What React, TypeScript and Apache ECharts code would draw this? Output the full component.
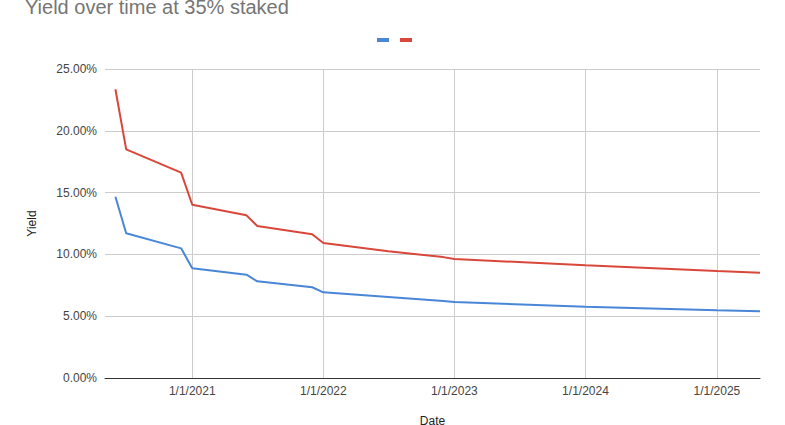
import React, { useEffect, useRef } from 'react';
import * as echarts from 'echarts';

const dates = [
  '2020-06-01', '2020-07-01', '2020-12-01', '2021-01-01', '2021-06-01', '2021-07-01',
  '2021-12-01', '2022-01-01', '2022-07-01', '2022-12-01', '2023-01-01', '2024-01-01',
  '2025-01-01', '2025-05-01',
];
const blueYield = [14.67, 11.71, 10.49, 8.88, 8.36, 7.82, 7.34, 6.93, 6.55, 6.22, 6.15, 5.77, 5.48, 5.40];
const redYield = [23.36, 18.5, 16.61, 14.02, 13.16, 12.3, 11.63, 10.92, 10.25, 9.78, 9.63, 9.12, 8.66, 8.52];
const xTickDates = ['2021-01-01', '2022-01-01', '2023-01-01', '2024-01-01', '2025-01-01'];
const xMinDate = '2020-05-03';
const xMaxDate = '2025-05-01';
const seriesNames = ['A', 'B'];

function ts(d: string): number {
  const [y, m, dd] = d.split('-').map(Number);
  return Date.UTC(y, m - 1, dd);
}
function fmt(v: number): string {
  const d = new Date(v);
  return `${d.getUTCMonth() + 1}/${d.getUTCDate()}/${d.getUTCFullYear()}`;
}

const FONT = 'Arial, "Liberation Sans", sans-serif';

export default function App() {
  const ref = useRef<HTMLDivElement>(null);
  useEffect(() => {
    if (!ref.current) return;
    const chart = echarts.init(ref.current, undefined, { renderer: 'svg' });
    const tickVals = xTickDates.map(ts);
    chart.setOption({
      animation: false,
      textStyle: { fontFamily: FONT },
      title: {
        text: 'Yield over time at 35% staked',
        left: 20,
        top: -8,
        textStyle: { fontSize: 20, color: '#757575', fontWeight: 'normal', fontFamily: FONT },
      },
      legend: {
        data: seriesNames,
        left: 372,
        top: 33,
        icon: 'rect',
        itemWidth: 12,
        itemHeight: 4,
        itemGap: 11,
        formatter: () => '',
      },
      grid: {
        left: 105,
        right: 25,
        top: 69,
        bottom: 47,
        containLabel: false,
        outerBoundsMode: 'none',
      },
      xAxis: {
        type: 'value',
        min: ts(xMinDate),
        max: ts(xMaxDate),
        name: 'Date',
        nameLocation: 'middle',
        nameGap: 37,
        nameTextStyle: { color: '#222', fontSize: 12, fontFamily: FONT },
        axisLine: { lineStyle: { color: '#333', width: 1 } },
        axisTick: { show: false, customValues: tickVals },
        axisLabel: {
          customValues: tickVals,
          formatter: (v: number) => fmt(v),
          color: '#444',
          fontSize: 12,
          margin: 7,
          fontFamily: FONT,
        },
        splitLine: { show: true, lineStyle: { color: '#ccc', width: 1 } },
      },
      yAxis: {
        type: 'value',
        min: 0,
        max: 25,
        interval: 5,
        name: 'Yield',
        nameLocation: 'middle',
        nameGap: 67,
        nameTextStyle: { color: '#222', fontSize: 12, fontFamily: FONT },
        axisLine: { show: false },
        axisTick: { show: false },
        axisLabel: {
          formatter: (v: number) => `${v.toFixed(2)}%`,
          color: '#444',
          fontSize: 12,
          margin: 8,
          fontFamily: FONT,
        },
        splitLine: { lineStyle: { color: '#ccc', width: 1 } },
      },
      series: [
        {
          name: seriesNames[0],
          type: 'line',
          showSymbol: false,
          color: '#4a86d8',
          lineStyle: { width: 2, color: '#4a86d8' },
          data: dates.map((d, i) => [ts(d), blueYield[i]]),
        },
        {
          name: seriesNames[1],
          type: 'line',
          showSymbol: false,
          color: '#d9473a',
          lineStyle: { width: 2, color: '#d9473a' },
          data: dates.map((d, i) => [ts(d), redYield[i]]),
        },
      ],
    });
    return () => chart.dispose();
  }, []);
  return (
    <div
      ref={ref}
      style={{ position: 'fixed', left: 0, top: 0, width: 785, height: 425, background: '#fff' }}
    />
  );
}
